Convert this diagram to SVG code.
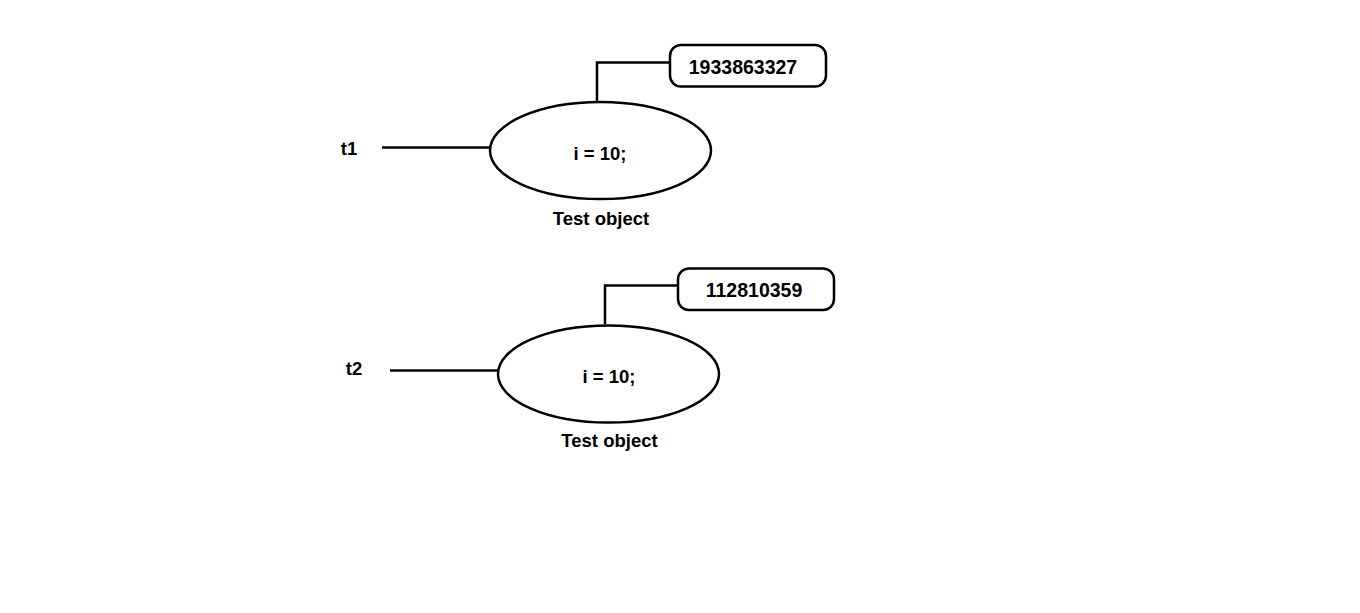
<svg xmlns="http://www.w3.org/2000/svg" width="1360" height="613" viewBox="0 0 1360 613">
<style>
.ln{stroke:#000;stroke-width:2.5;fill:none}
.sh{stroke:#000;stroke-width:2.5;fill:#fff}
.tx{font-family:"Liberation Sans",Arial,sans-serif;font-weight:bold;font-size:18.5px;fill:#000}
.nm{font-size:19.5px}
</style>
<rect width="1360" height="613" fill="#fff"/>
<g id="connectors">
<line class="ln" x1="382" y1="147.5" x2="490" y2="147.5"/>
<polyline class="ln" points="597,101 597,62.5 670,62.5"/>
<line class="ln" x1="390" y1="370.5" x2="498" y2="370.5"/>
<polyline class="ln" points="605,324 605,285.5 678,285.5"/>
</g>
<g id="t1">
<text class="tx" x="349" y="155" text-anchor="middle">t1</text>
</g>
<g id="obj1">
<ellipse class="sh" cx="600.5" cy="150.5" rx="110.5" ry="48.5"/>
<text class="tx" x="600" y="160" text-anchor="middle">i = 10;</text>
<text class="tx" x="601" y="225" text-anchor="middle">Test object</text>
</g>
<g id="hash1">
<rect class="sh" x="670" y="45" width="156" height="41.5" rx="11"/>
<text class="tx nm" x="743" y="74" text-anchor="middle">1933863327</text>
</g>
<g id="t2">
<text class="tx" x="354" y="375" text-anchor="middle">t2</text>
</g>
<g id="obj2">
<ellipse class="sh" cx="608.5" cy="374" rx="110.5" ry="48.5"/>
<text class="tx" x="609" y="383" text-anchor="middle">i = 10;</text>
<text class="tx" x="609.5" y="447" text-anchor="middle">Test object</text>
</g>
<g id="hash2">
<rect class="sh" x="678" y="268.5" width="156" height="41.5" rx="11"/>
<text class="tx nm" x="754" y="297" text-anchor="middle">112810359</text>
</g>
</svg>
